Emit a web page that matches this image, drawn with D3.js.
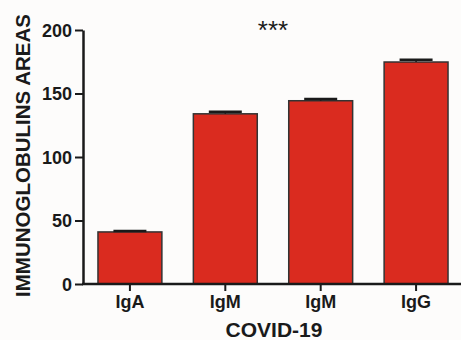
<!DOCTYPE html>
<html>
<head>
<meta charset="utf-8">
<script src="https://cdn.jsdelivr.net/npm/d3@7"></script>
<style>
  body { margin: 0; background: #fdfcfb; }
  text { font-family: "Liberation Sans", Arial, sans-serif; font-weight: bold; fill: #1a1a1a; }
</style>
</head>
<body>
<script>
// data
var categories = ["IgA", "IgM", "IgM ", "IgG"];
var tick_labels = ["IgA", "IgM", "IgM", "IgG"];
var means = [41, 134, 144.3, 174.8];
var errors = [0.7, 1.6, 1.3, 1.7];
var y_ticks = [0, 50, 100, 150, 200];

var w = 461, h = 340;
var m_left = 83, m_right = 463, m_top = 30, m_bottom = 284;

var svg = d3.select("body").append("svg")
  .attr("width", w)
  .attr("height", h);

var x = d3.scaleBand()
  .domain(categories)
  .range([m_left, m_right])
  .paddingInner(0.33)
  .paddingOuter(0.157);

var y = d3.scaleLinear()
  .domain([0, 200])
  .range([m_bottom, m_top]);

// bars
svg.selectAll("rect.bar")
  .data(means)
  .enter()
  .append("rect")
  .attr("class", "bar")
  .attr("x", function(d, i){ return x(categories[i]); })
  .attr("y", function(d){ return y(d); })
  .attr("width", x.bandwidth())
  .attr("height", function(d){ return y(0) - y(d); })
  .style("fill", "#da2b1f")
  .style("stroke", "#333")
  .style("stroke-width", 1.5);

// error bars (only the upper part shows)
var eb = svg.selectAll("g.err")
  .data(means)
  .enter()
  .append("g")
  .attr("class", "err");

eb.append("line")
  .attr("x1", function(d, i){ return x(categories[i]) + x.bandwidth()/2; })
  .attr("x2", function(d, i){ return x(categories[i]) + x.bandwidth()/2; })
  .attr("y1", function(d){ return y(d); })
  .attr("y2", function(d, i){ return y(d + errors[i]); })
  .style("stroke", "#1a1a1a")
  .style("stroke-width", 1.5);

eb.append("line")
  .attr("x1", function(d, i){ return x(categories[i]) + x.bandwidth()/2 - 16.5; })
  .attr("x2", function(d, i){ return x(categories[i]) + x.bandwidth()/2 + 16.5; })
  .attr("y1", function(d, i){ return y(d + errors[i]); })
  .attr("y2", function(d, i){ return y(d + errors[i]); })
  .style("stroke", "#1a1a1a")
  .style("stroke-width", 2.5);

// y axis
var y_axis = svg.append("g")
  .attr("transform", "translate(" + m_left + ",0)")
  .attr("font-size", 18)
  .call(d3.axisLeft(y).tickValues(y_ticks).tickSize(8).tickPadding(3).tickSizeOuter(0));

y_axis.select(".domain").style("stroke", "#1a1a1a").style("stroke-width", 2.5);
y_axis.selectAll(".tick line").style("stroke", "#1a1a1a").style("stroke-width", 2);
y_axis.selectAll(".tick text")
  .attr("font-size", 18)
  .style("font-size", "18px")
  .attr("dy", "0.36em");

// x axis
var x_axis = svg.append("g")
  .attr("transform", "translate(0," + m_bottom + ")")
  .attr("font-size", 18)
  .call(d3.axisBottom(x).tickSize(7).tickPadding(4).tickSizeOuter(0)
    .tickFormat(function(d, i){ return tick_labels[i]; }));

x_axis.select(".domain")
  .attr("d", "M" + (m_left - 1) + ",0H" + w)
  .style("stroke", "#1a1a1a").style("stroke-width", 2.5);
x_axis.selectAll(".tick line").style("stroke", "#1a1a1a").style("stroke-width", 2);
x_axis.selectAll(".tick text")
  .attr("font-size", 18)
  .style("font-size", "18px");

// titles
svg.append("text")
  .attr("x", 274)
  .attr("y", 337)
  .attr("text-anchor", "middle")
  .style("font-size", "21px")
  .text("COVID-19");

svg.append("text")
  .attr("transform", "translate(30,155.5) rotate(-90)")
  .attr("text-anchor", "middle")
  .style("font-size", "20.5px")
  .text("IMMUNOGLOBULINS AREAS");

svg.append("text")
  .attr("x", 273)
  .attr("y", 39)
  .attr("text-anchor", "middle")
  .style("font-size", "26px")
  .style("font-weight", "normal")
  .text("***");
</script>
</body>
</html>
